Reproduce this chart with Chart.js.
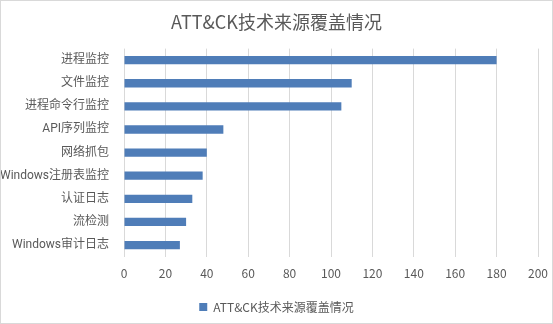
<!DOCTYPE html>
<html><head><meta charset="utf-8">
<script src="https://cdn.jsdelivr.net/npm/chart.js@4"></script>
<style>
html,body{margin:0;padding:0;background:#fff;}
#wrap{width:553px;height:324px;box-sizing:border-box;border:1px solid #d9d9d9;position:relative;}
canvas{display:block;}
</style></head>
<body><div id="wrap"><canvas id="c" width="551" height="322"></canvas></div>
<script>
const categories = ["进程监控","文件监控","进程命令行监控","API序列监控","网络抓包","Windows注册表监控","认证日志","流检测","Windows审计日志"];
const values = [180,110,105,48,40,38,33,30,27];
const seriesName = "ATT&CK技术来源覆盖情况";
const titleText = "ATT&CK技术来源覆盖情况";
const FONT = "Roboto, 'Noto Sans CJK SC', sans-serif";
const CJK = "'Noto Sans CJK SC', sans-serif";
const TXT = "#595959";
new Chart(document.getElementById('c'), {
  type: 'bar',
  data: { labels: categories, datasets: [{ label: seriesName, data: values, backgroundColor: '#4f7db8', barPercentage: 0.6, categoryPercentage: 0.6 }] },
  options: {
    indexAxis: 'y', responsive: false, animation: false,
    layout: { padding: { left: 0, right: 0, top: 4, bottom: 0 } },
    plugins: {
      title: { display: true, text: titleText, color: TXT, font: { family: CJK, size: 18, weight: 'normal' }, padding: { top: 6, bottom: 16 } },
      legend: { position: 'bottom', labels: { color: TXT, font: { family: CJK, size: 12 }, boxWidth: 8, boxHeight: 8, padding: 10 } },
      tooltip: { enabled: false }
    },
    scales: {
      x: { min: 0, max: 200, ticks: { stepSize: 20, color: TXT, font: { family: CJK, size: 12 }, padding: 10 },
           grid: { color: '#d9d9d9', drawTicks: false }, border: { display: false },
           afterFit: (s) => { s.paddingRight = 14; } },
      y: { ticks: { color: TXT, font: { family: FONT, size: 12 }, padding: 7 },
           grid: { display: false }, border: { display: false },
           afterFit: (s) => { s.width = 123; } }
    }
  }
});
</script></body></html>
